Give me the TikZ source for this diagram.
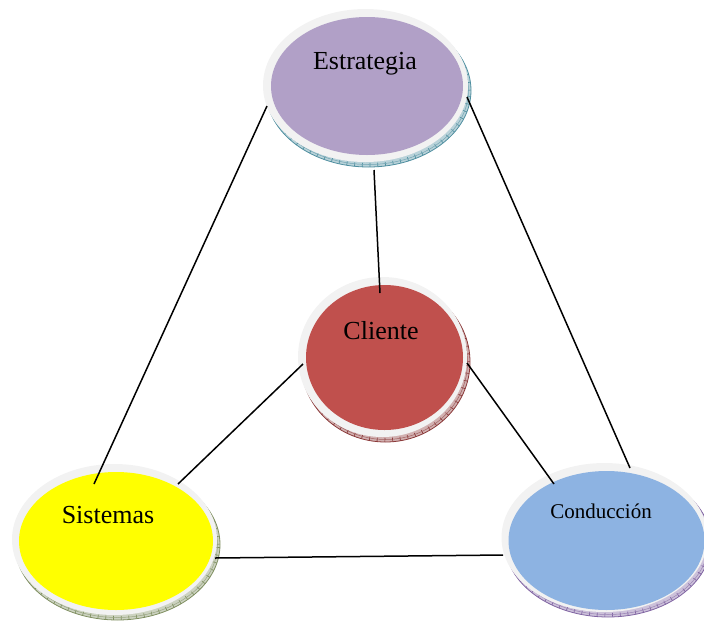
\documentclass[tikz,border=0pt]{standalone}
\usepackage{fontspec}
\setmainfont{Liberation Serif}
\usetikzlibrary{shapes.geometric,calc}
\definecolor{ringc}{HTML}{F2F2F2}
\definecolor{estc}{HTML}{B1A0C7}
\definecolor{estsh}{HTML}{4F8FA0}
\definecolor{clic}{HTML}{C0504D}
\definecolor{clish}{HTML}{8B3A3A}
\definecolor{sisc}{HTML}{FFFF00}
\definecolor{sissh}{HTML}{7F8F60}
\definecolor{conc}{HTML}{8DB3E2}
\definecolor{consh}{HTML}{8064A2}
\tikzset{
  disc/.style={ellipse, inner sep=0pt, fill=#1},
  lbl/.style={anchor=base, font=\fontsize{26}{30}\selectfont},
  conn/.style={line width=1.5pt, black},
  ring/.style={fill=ringc}
}
% \shadowdisc{colour}{cx}{cy}{rx}{ry}
\newcommand\shadowdisc[5]{%
  \fill[#1!40!white] (#2,#3) ellipse [x radius=#4 pt, y radius=#5 pt];
  \draw[#1, line width=4pt, dash pattern=on 0.7pt off 7pt]
     (#2,#3) ellipse [x radius=#4 pt - 2pt, y radius=#5 pt - 2pt];
  \draw[#1!80!white, line width=0.5pt] (#2,#3) ellipse [x radius=#4 pt - 2.5pt, y radius=#5 pt - 2.5pt];
  \draw[#1, line width=0.8pt] (#2,#3) ellipse [x radius=#4 pt, y radius=#5 pt];
}
\begin{document}
\begin{tikzpicture}[x=1pt,y=-1pt]
\useasboundingbox (0,0) rectangle (704,622);
% Estrategia
\shadowdisc{estsh}{368.5}{90.5}{102.5}{76.5}
\fill[ring] (365.5,85.5) ellipse [x radius=102.5pt, y radius=76.5pt];
\node[disc=estc, minimum width=192pt, minimum height=138pt] (est) at (367,86) {};
% Cliente
\shadowdisc{clish}{385.5}{362}{84.5}{80}
\fill[ring] (382.5,357) ellipse [x radius=84.5pt, y radius=80pt];
\node[disc=clic, minimum width=157pt, minimum height=145pt] (cli) at (384.5,357.5) {};
% Sistemas
\shadowdisc{sissh}{117.5}{544.5}{102.5}{75.5}
\fill[ring] (114.5,539.5) ellipse [x radius=102.5pt, y radius=75.5pt];
\node[disc=sisc, minimum width=194pt, minimum height=138pt] (sis) at (116,541) {};
% Conduccion
\shadowdisc{consh}{608}{542.5}{103}{74.5}
\fill[ring] (604.5,537.5) ellipse [x radius=103pt, y radius=74.5pt];
\node[disc=conc, minimum width=196pt, minimum height=139pt] (con) at (606.5,540.5) {};
% connectors
\draw[conn] ($(est)+(-100,20)$) -- ($(sis)+(-22,-57)$);
\draw[conn] ($(est)+(100,11)$) -- ($(con)+(23.5,-72.5)$);
\draw[conn] ($(est)+(7,84)$) -- ($(cli)+(-4.5,-64.5)$);
\draw[conn] ($(cli)+(-81.5,6.5)$) -- ($(sis)+(62,-57)$);
\draw[conn] ($(cli)+(82.5,5.5)$) -- ($(con)+(-52.5,-56.5)$);
\draw[conn] ($(sis)+(99,17)$) -- ($(con)+(-103.5,14.5)$);
% labels
\node[lbl] (estT) at (365,69) {Estrategia};
\node[lbl] (cliT) at (381,339) {Cliente};
\node[lbl] (sisT) at (108,523) {Sistemas};
\node[lbl, font=\fontsize{21}{25}\selectfont] (conT) at (601,518) {Conducción};
\end{tikzpicture}
\end{document}
